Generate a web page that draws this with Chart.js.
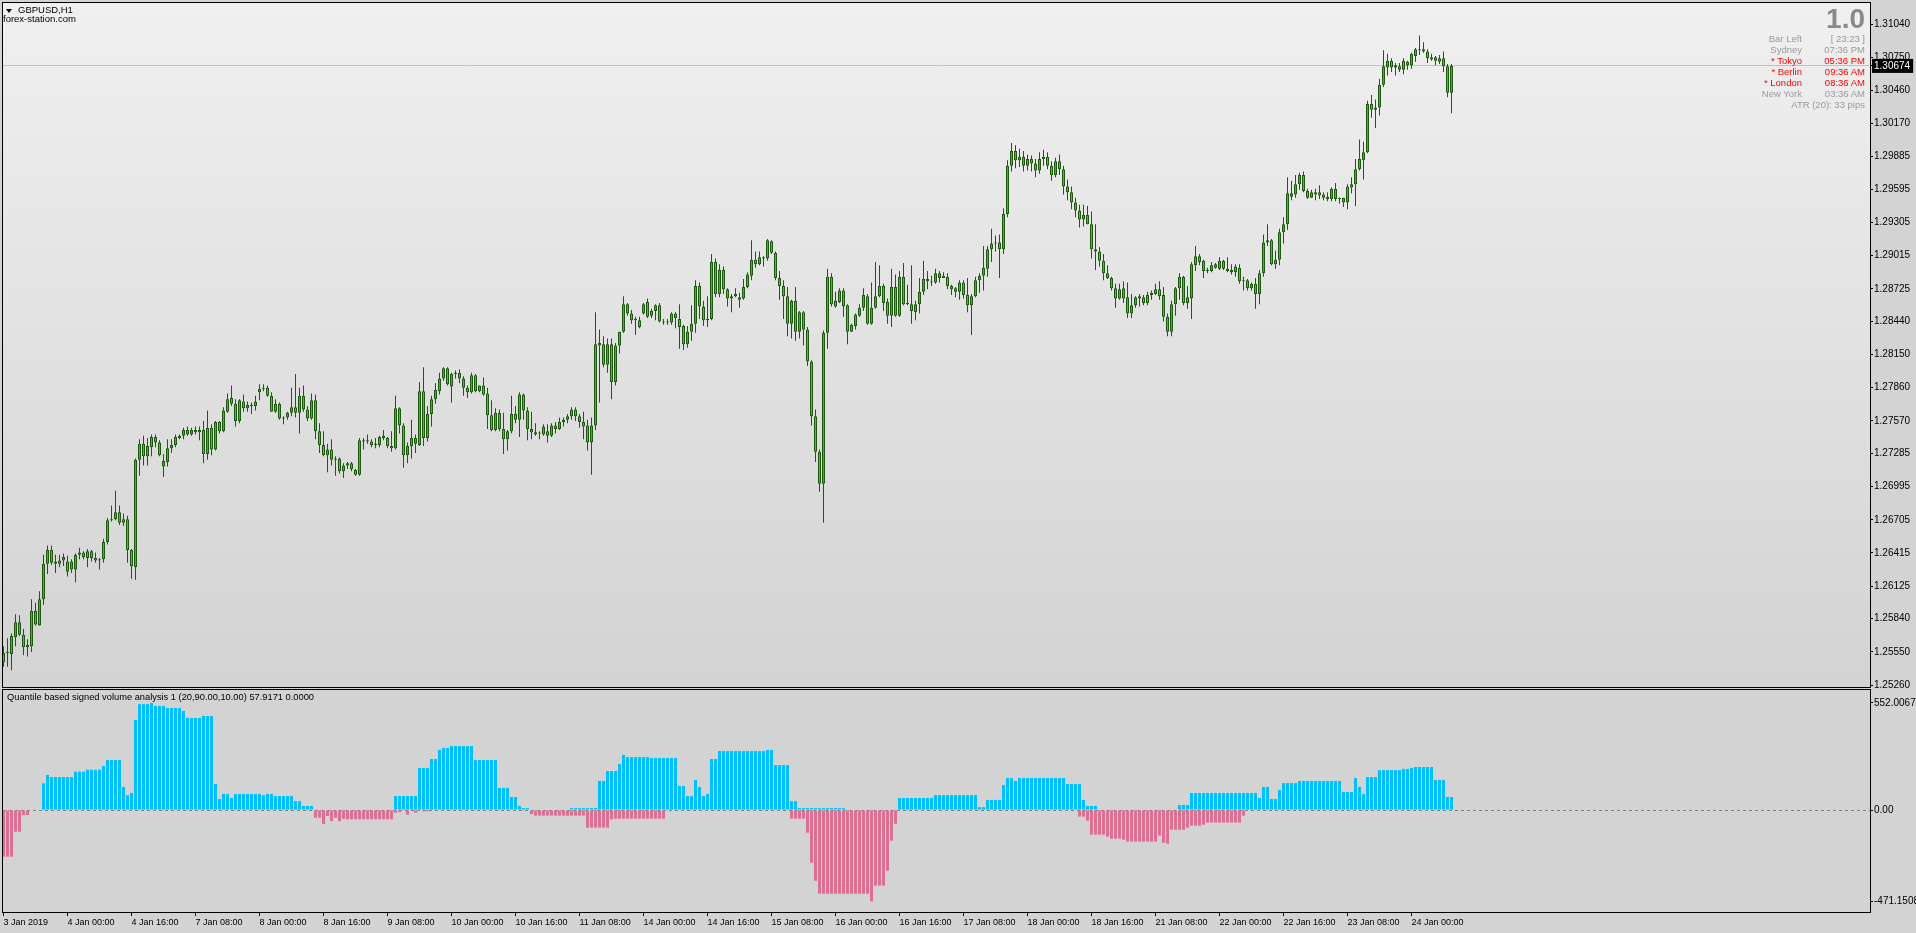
<!DOCTYPE html>
<html>
<head>
<meta charset="utf-8">
<script src="https://cdn.jsdelivr.net/npm/chart.js@4.4.1/dist/chart.umd.min.js"></script>
<style>
body { margin: 0; width: 1916px; height: 933px; overflow: hidden; position: relative; background: #d3d3d3; font-family: "Liberation Sans", Arial, sans-serif; }
canvas { position: absolute; left: 0; }
#c1 { top: 0; }
#c2 { top: 688px; }
.t { position: absolute; white-space: nowrap; line-height: 1; }
#tri { position: absolute; left: 6px; top: 9px; width: 0; height: 0; border-left: 3.5px solid transparent; border-right: 3.5px solid transparent; border-top: 4px solid #000; }
</style>
</head>
<body>
<canvas id="c1" width="1916" height="688"></canvas>
<canvas id="c2" width="1916" height="245"></canvas>
<div id="tri"></div>
<div class="t" style="left:18px;top:4.5px;font-size:9.5px;color:#000">GBPUSD,H1</div>
<div class="t" style="left:3px;top:14px;font-size:9.5px;color:#000">forex-station.com</div>
<div class="t" style="right:51px;top:5px;font-size:28px;font-weight:bold;color:#8a8a8a">1.0</div>
<div class="t" style="left:7px;top:693px;font-size:9.3px;color:#000">Quantile based signed volume analysis 1 (20,90.00,10.00) 57.9171 0.0000</div>
<div id="info"></div>
<script>
// GBPUSD H1, one entry per bar (3 Jan 2019 08:00 ... 24 Jan 2019 10:00)
const open = [
1.2546,1.2554,1.2553,1.2568,1.2581,1.2570,1.2561,1.2560,1.2591,1.2578,
1.2601,1.2632,1.2644,1.2634,1.2632,1.2635,1.2634,1.2627,1.2627,1.2640,
1.2642,1.2637,1.2643,1.2637,1.2635,1.2636,1.2651,1.2670,1.2671,1.2677,
1.2668,1.2671,1.2644,1.2629,1.2723,1.2737,1.2726,1.2734,1.2743,1.2738,
1.2717,1.2721,1.2733,1.2736,1.2742,1.2744,1.2749,1.2745,1.2747,1.2749,
1.2749,1.2728,1.2751,1.2732,1.2756,1.2748,1.2765,1.2777,1.2772,1.2757,
1.2774,1.2768,1.2770,1.2770,1.2782,1.2785,1.2786,1.2779,1.2765,1.2772,
1.2760,1.2760,1.2764,1.2769,1.2764,1.2779,1.2767,1.2759,1.2775,1.2748,
1.2736,1.2727,1.2732,1.2724,1.2724,1.2713,1.2718,1.2720,1.2714,1.2710,
1.2739,1.2739,1.2739,1.2736,1.2736,1.2742,1.2742,1.2735,1.2733,1.2768,
1.2753,1.2727,1.2735,1.2737,1.2736,1.2783,1.2742,1.2763,1.2776,1.2783,
1.2794,1.2803,1.2787,1.2798,1.2799,1.2794,1.2786,1.2782,1.2797,1.2783,
1.2788,1.2781,1.2762,1.2749,1.2764,1.2750,1.2741,1.2748,1.2763,1.2758,
1.2780,1.2766,1.2750,1.2747,1.2746,1.2745,1.2748,1.2744,1.2750,1.2750,
1.2756,1.2758,1.2761,1.2767,1.2761,1.2756,1.2753,1.2738,1.2753,1.2823,
1.2824,1.2806,1.2824,1.2791,1.2823,1.2835,1.2859,1.2851,1.2846,1.2845,
1.2851,1.2861,1.2849,1.2853,1.2858,1.2844,1.2844,1.2843,1.2851,1.2846,
1.2840,1.2824,1.2835,1.2842,1.2875,1.2857,1.2845,1.2846,1.2896,1.2868,
1.2889,1.2872,1.2864,1.2866,1.2865,1.2864,1.2874,1.2884,1.2898,1.2894,
1.2899,1.2899,1.2914,1.2904,1.2882,1.2875,1.2866,1.2842,1.2862,1.2835,
1.2852,1.2837,1.2809,1.2761,1.2730,1.2702,1.2834,1.2883,1.2857,1.2861,
1.2871,1.2858,1.2835,1.2840,1.2849,1.2856,1.2866,1.2842,1.2856,1.2866,
1.2875,1.2861,1.2849,1.2874,1.2849,1.2883,1.2860,1.2859,1.2852,1.2859,
1.2870,1.2881,1.2878,1.2878,1.2882,1.2884,1.2883,1.2875,1.2873,1.2870,
1.2878,1.2867,1.2858,1.2866,1.2880,1.2884,1.2890,1.2907,1.2912,1.2913,
1.2907,1.2938,1.2980,1.2993,1.2985,1.2988,1.2980,1.2986,1.2982,1.2976,
1.2986,1.2988,1.2980,1.2972,1.2984,1.2977,1.2962,1.2957,1.2948,1.2941,
1.2933,1.2937,1.2929,1.2907,1.2905,1.2897,1.2886,1.2882,1.2873,1.2864,
1.2873,1.2865,1.2851,1.2858,1.2864,1.2865,1.2860,1.2867,1.2868,1.2872,
1.2867,1.2848,1.2835,1.2859,1.2873,1.2883,1.2860,1.2864,1.2893,1.2901,
1.2897,1.2889,1.2888,1.2891,1.2890,1.2897,1.2890,1.2887,1.2887,1.2891,
1.2880,1.2880,1.2873,1.2877,1.2868,1.2886,1.2913,1.2915,1.2894,1.2898,
1.2922,1.2929,1.2953,1.2955,1.2964,1.2972,1.2958,1.2952,1.2955,1.2957,
1.2955,1.2953,1.2951,1.2960,1.2952,1.2952,1.2948,1.2961,1.2964,1.2977,
1.2985,1.2992,1.3034,1.3031,1.3031,1.3051,1.3066,1.3072,1.3068,1.3067,
1.3064,1.3071,1.3068,1.3076,1.3081,1.3082,1.3080,1.3075,1.3075,1.3074,
1.3074,1.3067,1.3044];
const high = [
1.2560,1.2567,1.2571,1.2588,1.2587,1.2575,1.2566,1.2601,1.2598,1.2608,
1.2640,1.2648,1.2648,1.2640,1.2640,1.2641,1.2639,1.2636,1.2641,1.2646,
1.2643,1.2645,1.2644,1.2642,1.2637,1.2654,1.2672,1.2683,1.2696,1.2683,
1.2676,1.2674,1.2645,1.2724,1.2741,1.2744,1.2742,1.2745,1.2745,1.2740,
1.2728,1.2741,1.2741,1.2745,1.2745,1.2751,1.2752,1.2751,1.2752,1.2752,
1.2757,1.2766,1.2754,1.2757,1.2757,1.2769,1.2781,1.2788,1.2776,1.2776,
1.2780,1.2774,1.2773,1.2779,1.2789,1.2789,1.2788,1.2782,1.2776,1.2773,
1.2761,1.2765,1.2786,1.2798,1.2786,1.2788,1.2770,1.2781,1.2780,1.2755,
1.2748,1.2737,1.2741,1.2726,1.2725,1.2720,1.2721,1.2721,1.2715,1.2742,
1.2742,1.2745,1.2741,1.2742,1.2744,1.2749,1.2743,1.2748,1.2779,1.2769,
1.2755,1.2738,1.2758,1.2745,1.2791,1.2804,1.2770,1.2779,1.2790,1.2799,
1.2804,1.2804,1.2799,1.2801,1.2802,1.2796,1.2788,1.2799,1.2798,1.2788,
1.2795,1.2786,1.2775,1.2768,1.2767,1.2764,1.2749,1.2779,1.2770,1.2782,
1.2781,1.2769,1.2765,1.2755,1.2748,1.2754,1.2754,1.2755,1.2756,1.2760,
1.2760,1.2763,1.2769,1.2769,1.2763,1.2765,1.2758,1.2760,1.2852,1.2837,
1.2831,1.2829,1.2829,1.2825,1.2835,1.2866,1.2860,1.2854,1.2848,1.2848,
1.2860,1.2864,1.2855,1.2859,1.2860,1.2846,1.2846,1.2852,1.2852,1.2859,
1.2841,1.2840,1.2858,1.2880,1.2878,1.2862,1.2866,1.2903,1.2899,1.2894,
1.2892,1.2873,1.2868,1.2873,1.2869,1.2881,1.2887,1.2915,1.2905,1.2905,
1.2901,1.2916,1.2915,1.2905,1.2888,1.2880,1.2874,1.2863,1.2874,1.2853,
1.2853,1.2839,1.2810,1.2767,1.2732,1.2836,1.2890,1.2886,1.2870,1.2873,
1.2873,1.2859,1.2842,1.2851,1.2859,1.2873,1.2868,1.2878,1.2896,1.2893,
1.2877,1.2864,1.2890,1.2885,1.2888,1.2895,1.2876,1.2893,1.2862,1.2882,
1.2897,1.2888,1.2884,1.2890,1.2888,1.2887,1.2886,1.2876,1.2874,1.2880,
1.2880,1.2882,1.2868,1.2883,1.2886,1.2910,1.2910,1.2925,1.2919,1.2920,
1.2943,1.2985,1.3000,1.2998,1.2995,1.2993,1.2990,1.2989,1.2986,1.2992,
1.2994,1.2992,1.2984,1.2987,1.2990,1.2980,1.2968,1.2962,1.2952,1.2946,
1.2946,1.2945,1.2940,1.2929,1.2909,1.2903,1.2893,1.2883,1.2877,1.2877,
1.2879,1.2878,1.2868,1.2866,1.2868,1.2867,1.2870,1.2871,1.2877,1.2879,
1.2874,1.2851,1.2862,1.2874,1.2886,1.2884,1.2875,1.2896,1.2910,1.2903,
1.2898,1.2891,1.2896,1.2895,1.2900,1.2898,1.2900,1.2894,1.2894,1.2894,
1.2883,1.2881,1.2878,1.2882,1.2889,1.2920,1.2929,1.2916,1.2906,1.2925,
1.2935,1.2970,1.2967,1.2972,1.2974,1.2975,1.2960,1.2959,1.2960,1.2963,
1.2957,1.2957,1.2961,1.2965,1.2952,1.2952,1.2964,1.2970,1.2986,1.3003,
1.3001,1.3037,1.3042,1.3038,1.3056,1.3081,1.3078,1.3074,1.3070,1.3070,
1.3074,1.3072,1.3079,1.3083,1.3094,1.3088,1.3082,1.3078,1.3076,1.3077,
1.3080,1.3069,1.3069];
const low = [
1.2542,1.2542,1.2539,1.2560,1.2569,1.2552,1.2551,1.2555,1.2578,1.2578,
1.2596,1.2623,1.2631,1.2624,1.2629,1.2630,1.2621,1.2624,1.2616,1.2636,
1.2636,1.2629,1.2634,1.2633,1.2627,1.2633,1.2649,1.2669,1.2670,1.2666,
1.2665,1.2633,1.2619,1.2618,1.2709,1.2718,1.2718,1.2726,1.2734,1.2726,
1.2708,1.2717,1.2729,1.2734,1.2741,1.2741,1.2744,1.2744,1.2745,1.2740,
1.2720,1.2723,1.2727,1.2731,1.2746,1.2747,1.2764,1.2770,1.2752,1.2755,
1.2765,1.2765,1.2763,1.2766,1.2775,1.2783,1.2778,1.2765,1.2764,1.2758,
1.2754,1.2758,1.2761,1.2760,1.2746,1.2765,1.2757,1.2758,1.2741,1.2729,
1.2726,1.2712,1.2718,1.2709,1.2711,1.2707,1.2715,1.2713,1.2709,1.2709,
1.2732,1.2737,1.2734,1.2733,1.2734,1.2740,1.2733,1.2730,1.2732,1.2746,
1.2716,1.2720,1.2724,1.2729,1.2735,1.2735,1.2739,1.2752,1.2772,1.2780,
1.2792,1.2788,1.2773,1.2794,1.2790,1.2779,1.2777,1.2781,1.2782,1.2782,
1.2779,1.2750,1.2748,1.2748,1.2748,1.2728,1.2731,1.2746,1.2755,1.2743,
1.2758,1.2740,1.2741,1.2744,1.2741,1.2744,1.2738,1.2743,1.2746,1.2749,
1.2752,1.2755,1.2758,1.2757,1.2751,1.2741,1.2731,1.2710,1.2749,1.2773,
1.2804,1.2799,1.2776,1.2788,1.2816,1.2834,1.2849,1.2842,1.2832,1.2838,
1.2850,1.2847,1.2847,1.2845,1.2843,1.2841,1.2841,1.2841,1.2838,1.2820,
1.2819,1.2821,1.2827,1.2834,1.2846,1.2840,1.2839,1.2845,1.2865,1.2865,
1.2868,1.2857,1.2852,1.2865,1.2856,1.2863,1.2873,1.2880,1.2891,1.2893,
1.2892,1.2897,1.2903,1.2880,1.2863,1.2846,1.2831,1.2829,1.2827,1.2829,
1.2823,1.2805,1.2753,1.2721,1.2695,1.2668,1.2820,1.2857,1.2856,1.2860,
1.2848,1.2824,1.2835,1.2837,1.2848,1.2853,1.2841,1.2841,1.2855,1.2865,
1.2853,1.2842,1.2839,1.2848,1.2848,1.2858,1.2858,1.2842,1.2845,1.2851,
1.2867,1.2872,1.2875,1.2877,1.2878,1.2882,1.2872,1.2867,1.2865,1.2863,
1.2864,1.2852,1.2832,1.2865,1.2869,1.2871,1.2883,1.2896,1.2905,1.2882,
1.2903,1.2935,1.2975,1.2978,1.2979,1.2975,1.2976,1.2975,1.2970,1.2973,
1.2980,1.2977,1.2967,1.2970,1.2972,1.2955,1.2950,1.2942,1.2935,1.2926,
1.2927,1.2929,1.2899,1.2889,1.2892,1.2880,1.2881,1.2871,1.2856,1.2863,
1.2860,1.2847,1.2847,1.2856,1.2857,1.2858,1.2858,1.2863,1.2867,1.2863,
1.2844,1.2831,1.2831,1.2849,1.2863,1.2858,1.2855,1.2846,1.2888,1.2893,
1.2882,1.2886,1.2887,1.2890,1.2889,1.2889,1.2887,1.2885,1.2883,1.2877,
1.2871,1.2871,1.2871,1.2855,1.2859,1.2883,1.2910,1.2893,1.2890,1.2893,
1.2912,1.2924,1.2950,1.2952,1.2959,1.2957,1.2951,1.2952,1.2950,1.2951,
1.2950,1.2949,1.2949,1.2949,1.2947,1.2944,1.2942,1.2956,1.2945,1.2976,
1.2968,1.2991,1.3022,1.3013,1.3024,1.3049,1.3059,1.3062,1.3059,1.3062,
1.3060,1.3064,1.3065,1.3071,1.3077,1.3079,1.3070,1.3072,1.3068,1.3069,
1.3062,1.3040,1.3026];
const close = [
1.2554,1.2554,1.2569,1.2581,1.2570,1.2559,1.2559,1.2591,1.2579,1.2601,
1.2632,1.2644,1.2633,1.2632,1.2635,1.2638,1.2625,1.2634,1.2640,1.2642,
1.2638,1.2643,1.2637,1.2635,1.2636,1.2651,1.2670,1.2671,1.2677,1.2668,
1.2671,1.2644,1.2630,1.2723,1.2737,1.2726,1.2735,1.2743,1.2738,1.2727,
1.2722,1.2733,1.2736,1.2743,1.2744,1.2749,1.2745,1.2749,1.2749,1.2747,
1.2728,1.2751,1.2732,1.2756,1.2748,1.2766,1.2776,1.2772,1.2757,1.2775,
1.2768,1.2771,1.2771,1.2774,1.2785,1.2786,1.2779,1.2765,1.2772,1.2759,
1.2759,1.2764,1.2769,1.2764,1.2779,1.2767,1.2759,1.2775,1.2748,1.2736,
1.2727,1.2732,1.2723,1.2723,1.2713,1.2718,1.2720,1.2715,1.2710,1.2740,
1.2740,1.2740,1.2736,1.2737,1.2743,1.2744,1.2735,1.2733,1.2768,1.2753,
1.2727,1.2735,1.2742,1.2742,1.2783,1.2742,1.2763,1.2776,1.2784,1.2794,
1.2803,1.2789,1.2798,1.2799,1.2794,1.2786,1.2782,1.2797,1.2783,1.2788,
1.2780,1.2762,1.2749,1.2764,1.2750,1.2741,1.2748,1.2763,1.2758,1.2780,
1.2766,1.2750,1.2747,1.2745,1.2746,1.2752,1.2744,1.2753,1.2753,1.2756,
1.2758,1.2761,1.2767,1.2761,1.2756,1.2752,1.2738,1.2753,1.2824,1.2825,
1.2806,1.2824,1.2791,1.2823,1.2835,1.2859,1.2851,1.2845,1.2845,1.2839,
1.2859,1.2848,1.2853,1.2858,1.2844,1.2843,1.2843,1.2851,1.2847,1.2839,
1.2824,1.2835,1.2842,1.2875,1.2857,1.2845,1.2846,1.2896,1.2868,1.2889,
1.2872,1.2864,1.2866,1.2868,1.2863,1.2874,1.2885,1.2898,1.2894,1.2900,
1.2900,1.2915,1.2904,1.2882,1.2875,1.2866,1.2842,1.2862,1.2835,1.2852,
1.2837,1.2809,1.2761,1.2730,1.2702,1.2834,1.2883,1.2859,1.2862,1.2871,
1.2857,1.2835,1.2841,1.2850,1.2856,1.2867,1.2842,1.2856,1.2866,1.2875,
1.2860,1.2849,1.2874,1.2849,1.2883,1.2859,1.2859,1.2853,1.2859,1.2870,
1.2881,1.2879,1.2878,1.2886,1.2886,1.2882,1.2875,1.2872,1.2870,1.2878,
1.2867,1.2858,1.2866,1.2880,1.2884,1.2891,1.2907,1.2912,1.2913,1.2907,
1.2938,1.2980,1.2993,1.2985,1.2988,1.2980,1.2986,1.2982,1.2976,1.2986,
1.2988,1.2980,1.2972,1.2984,1.2977,1.2962,1.2957,1.2948,1.2941,1.2933,
1.2937,1.2929,1.2907,1.2905,1.2897,1.2886,1.2882,1.2873,1.2864,1.2872,
1.2864,1.2851,1.2858,1.2865,1.2866,1.2860,1.2867,1.2869,1.2872,1.2866,
1.2848,1.2835,1.2859,1.2873,1.2883,1.2860,1.2865,1.2894,1.2901,1.2896,
1.2888,1.2888,1.2893,1.2894,1.2897,1.2890,1.2888,1.2889,1.2892,1.2879,
1.2879,1.2873,1.2877,1.2868,1.2886,1.2913,1.2915,1.2894,1.2898,1.2922,
1.2929,1.2956,1.2956,1.2964,1.2972,1.2958,1.2952,1.2957,1.2957,1.2954,
1.2952,1.2951,1.2960,1.2951,1.2951,1.2948,1.2962,1.2964,1.2977,1.2986,
1.2992,1.3034,1.3029,1.3029,1.3051,1.3067,1.3072,1.3066,1.3066,1.3064,
1.3072,1.3068,1.3078,1.3082,1.3082,1.3080,1.3074,1.3073,1.3072,1.3071,
1.3067,1.3044,1.30674];

// Quantile based signed volume analysis: positive part (blue) and negative part (pink)
const buyVol = [
0,0,0,0,0,0,0,0,0,0,
138,181,170,170,170,170,170,170,198,198,
198,208,208,208,208,227,258,258,258,258,
119,77,88,464,546,546,546,552.0067,537,537,
537,526,526,526,526,511,475,475,475,475,
485,485,485,134,57,83,83,62,83,83,
83,83,83,83,83,76,83,83,72,72,
72,72,72,46,46,21,21,21,0,0,
0,0,0,0,0,0,0,0,0,0,
0,0,0,0,0,0,0,0,72,72,
72,72,72,72,217,217,217,263,263,310,
320,320,330,330,330,330,330,330,258,258,
258,258,258,258,114,114,114,67,67,21,
10,10,0,0,0,0,0,0,0,0,
0,0,10,10,10,10,10,10,10,150,
150,201,201,201,237,284,273,273,273,273,
273,273,268,268,268,268,268,268,268,124,
124,72,72,155,119,72,83,263,263,304,
304,304,304,304,304,304,304,304,304,304,
304,310,310,232,232,232,232,46,46,10,
10,10,10,10,10,10,10,10,10,10,
10,0,0,0,0,0,0,0,0,0,
0,0,0,0,62,62,62,62,62,62,
62,62,62,77,77,77,77,77,77,77,
77,77,77,77,15,15,52,52,52,52,
129,165,165,150,165,165,165,165,165,165,
165,165,165,165,165,165,134,134,134,134,
52,21,21,21,0,0,0,0,0,0,
0,0,0,0,0,0,0,0,0,0,
0,0,0,0,26,26,26,88,88,88,
88,88,88,88,88,88,88,88,88,88,
88,88,88,88,62,119,119,57,57,103,
139,139,139,139,150,150,150,150,150,150,
150,150,150,150,150,93,93,93,165,119,
83,170,170,170,206,206,206,206,206,206,
212,212,217,222,222,222,222,222,155,155,
155,67,67];
const sellVol = [
-241,-241,-241,-112,-112,-26,-26,0,0,0,
0,0,0,0,0,0,0,0,0,0,
0,0,0,0,0,0,0,0,0,0,
0,0,0,0,0,0,0,0,0,0,
0,0,0,0,0,0,0,0,0,0,
0,0,0,0,0,0,0,0,0,0,
0,0,0,0,0,0,0,0,0,0,
0,0,0,0,0,0,0,0,-40,-40,
-72,-31,-57,-40,-57,-45,-48,-48,-48,-48,
-48,-48,-48,-48,-48,-48,-48,-48,-14,-10,
0,-24,0,-14,0,-7,-7,0,0,0,
0,0,0,0,0,0,0,0,0,0,
0,0,0,0,0,0,0,0,0,0,
0,0,-21,-29,-29,-29,-29,-29,-29,-29,
-29,-29,-29,-29,-29,-29,-91,-91,-91,-91,
-91,-91,-48,-45,-45,-45,-45,-45,-45,-45,
-45,-45,-45,-45,-45,-45,0,0,0,0,
0,0,0,0,0,0,0,0,0,0,
0,0,0,0,0,0,0,0,0,0,
0,0,0,0,0,0,0,-45,-45,-45,
-45,-117,-272,-365,-432,-432,-432,-432,-432,-432,
-432,-432,-432,-432,-432,-432,-432,-471.1508,-390,-390,
-390,-313,-158,-71,0,0,0,0,0,0,
0,0,0,0,0,0,0,0,0,0,
0,0,0,0,0,0,0,0,0,0,
0,0,0,0,0,0,0,0,0,0,
0,0,0,0,0,0,0,0,0,-34,
-34,-55,-127,-127,-127,-127,-138,-148,-148,-148,
-153,-163,-163,-163,-163,-163,-163,-163,-163,-132,
-169,-174,-102,-102,-102,-102,-91,-81,-81,-81,
-76,-65,-65,-65,-65,-65,-65,-65,-65,-65,
-29,0,0,0,0,0,0,0,0,0,
0,0,0,0,0,0,0,0,0,0,
0,0,0,0,0,0,0,0,0,0,
0,0,0,0,0,0,0,0,0,0,
0,0,0,0,0,0,0,0,0,0,
0,0,0];

const bidPrice = 1.30674;
const priceTicks = [1.31040, 1.30750, 1.30460, 1.30170, 1.29885, 1.29595, 1.29305, 1.29015, 1.28725, 1.28440,
  1.28150, 1.27860, 1.27570, 1.27285, 1.26995, 1.26705, 1.26415, 1.26125, 1.25840, 1.25550, 1.25260];
const volTicks = [552.0067, 0, -471.1508];
const timeTickBars = [0, 16, 32, 48, 64, 80, 96, 112, 128, 144, 160, 176, 192, 208, 224, 240, 256, 272, 288, 304, 320, 336, 352];
const timeTickLabels = ['3 Jan 2019', '4 Jan 00:00', '4 Jan 16:00', '7 Jan 08:00', '8 Jan 00:00', '8 Jan 16:00',
  '9 Jan 08:00', '10 Jan 00:00', '10 Jan 16:00', '11 Jan 08:00', '14 Jan 00:00', '14 Jan 16:00', '15 Jan 08:00',
  '16 Jan 00:00', '16 Jan 16:00', '17 Jan 08:00', '18 Jan 00:00', '18 Jan 16:00', '21 Jan 08:00', '22 Jan 00:00',
  '22 Jan 16:00', '23 Jan 08:00', '24 Jan 00:00'];

// clock panel in the top right corner
const clockNames = ['Bar Left', 'Sydney', '* Tokyo', '* Berlin', '* London', 'New York'];
const clockTimes = ['[ 23:23 ]', '07:36 PM', '05:36 PM', '09:36 AM', '08:36 AM', '03:36 AM'];
const clockOpen = [false, false, true, true, true, false];

const info = document.getElementById('info');
const rowTop = [34, 45, 56, 67, 77.5, 88.5];
clockNames.forEach((name, i) => {
  const col = clockOpen[i] ? '#ff0000' : '#9a9a9a';
  info.insertAdjacentHTML('beforeend',
    `<div class="t" style="right:114px;top:${rowTop[i]}px;font-size:9.5px;color:${col}">${name}</div>` +
    `<div class="t" style="right:51px;top:${rowTop[i]}px;font-size:9.5px;color:${col}">${clockTimes[i]}</div>`);
});
info.insertAdjacentHTML('beforeend', '<div class="t" style="right:51px;top:100px;font-size:9.5px;color:#9a9a9a">ATR (20): 33 pips</div>');

Chart.defaults.font.family = '"Liberation Sans", Arial, sans-serif';
Chart.defaults.color = '#000';

const xMin = -0.125, xMax = 466.625;   // 4 px per hourly bar
const outline = '#1d5a10';
const bullFill = '#3cb82c';
const bearFill = '#d8734b';

// fixed axis sizes, no extra room for the end labels
const fixY = s => { s.width = 46; s.paddingTop = 0; s.paddingBottom = 0; };
const fixX = s => { s.height = 21; s.paddingLeft = 0; s.paddingRight = 0; };

// pane background and black frame
const pane = {
  id: 'pane',
  beforeDraw(chart, args, opts) {
    const {ctx, chartArea: a} = chart;
    ctx.save();
    ctx.fillStyle = '#d3d3d3';
    ctx.fillRect(0, 0, chart.width, chart.height);
    if (opts.top) {
      const g = ctx.createLinearGradient(0, a.top, 0, a.bottom);
      g.addColorStop(0, opts.top);
      g.addColorStop(1, opts.bottom);
      ctx.fillStyle = g;
      ctx.fillRect(a.left, a.top, a.right - a.left, a.bottom - a.top);
    }
    ctx.restore();
  },
  afterDraw(chart) {
    const {ctx, chartArea: a} = chart;
    ctx.save();
    ctx.strokeStyle = '#000';
    ctx.lineWidth = 1;
    ctx.strokeRect(a.left - 0.5, a.top - 0.5, a.right - a.left + 1, a.bottom - a.top + 1);
    ctx.restore();
  }
};

const bodies = close.map((c, i) => ({x: i, y: [open[i], c]}));
const wicks = close.map((c, i) => ({x: i, y: [low[i], high[i]]}));
const bodyColors = close.map((c, i) => c >= open[i] ? bullFill : bearFill);

new Chart(document.getElementById('c1'), {
  type: 'bar',
  data: {
    datasets: [
      { data: bodies, backgroundColor: bodyColors, borderColor: outline, borderWidth: 1, borderSkipped: false,
        barThickness: 3, grouped: false, minBarLength: 1, inflateAmount: 0, order: 1 },
      { data: wicks, backgroundColor: outline, borderWidth: 0, barThickness: 1, grouped: false,
        minBarLength: 1, inflateAmount: 0, order: 2 }
    ]
  },
  options: {
    responsive: false, animation: false, events: [], devicePixelRatio: 1,
    layout: { padding: { left: 3, top: 3, right: 0, bottom: 1 } },
    plugins: { legend: { display: false }, tooltip: { enabled: false }, pane: { top: '#f0f0f0', bottom: '#d3d3d3' } },
    scales: {
      x: { type: 'linear', min: xMin, max: xMax, offset: false, display: false, grid: { offset: false } },
      y: {
        position: 'right', min: 1.25243, max: 1.31224, beginAtZero: false,
        afterFit: fixY,
        afterBuildTicks: s => { s.ticks = priceTicks.concat([bidPrice]).map(v => ({ value: v })); },
        ticks: {
          autoSkip: false, padding: 1, font: { size: 10 },
          callback: v => v.toFixed(5),
          color: c => c.tick.value === bidPrice ? '#fff' : '#000',
          showLabelBackdrop: c => c.tick.value === bidPrice,
          backdropColor: '#000',
          backdropPadding: { left: 2, right: 3, top: 1, bottom: 1 }
        },
        grid: {
          color: c => (c.tick && c.tick.value === bidPrice) ? '#c0c0c0' : 'rgba(0,0,0,0)',
          tickColor: '#000', tickLength: 3, lineWidth: 1
        },
        border: { display: false }
      }
    }
  },
  plugins: [pane]
});

new Chart(document.getElementById('c2'), {
  type: 'bar',
  data: {
    datasets: [
      { data: buyVol.map((v, i) => ({x: i, y: v})), backgroundColor: '#00bfff', borderWidth: 0,
        barThickness: 3, grouped: false, inflateAmount: 0, order: 1 },
      { data: sellVol.map((v, i) => ({x: i, y: v})), backgroundColor: '#db7093', borderWidth: 0,
        barThickness: 3, grouped: false, inflateAmount: 0, order: 2 }
    ]
  },
  options: {
    responsive: false, animation: false, events: [], devicePixelRatio: 1,
    layout: { padding: { left: 3, top: 2, right: 0, bottom: 0 } },
    plugins: { legend: { display: false }, tooltip: { enabled: false }, pane: {} },
    scales: {
      x: {
        type: 'linear', min: xMin, max: xMax, offset: false, position: 'bottom',
        afterFit: fixX,
        afterBuildTicks: s => { s.ticks = timeTickBars.map(v => ({ value: v })); },
        ticks: { autoSkip: false, maxRotation: 0, minRotation: 0, align: 'start', padding: 1, font: { size: 9 },
          callback: (v, i) => timeTickLabels[i] },
        grid: { offset: false, drawOnChartArea: false, drawTicks: true, tickLength: 4, tickColor: '#000', color: '#000' },
        border: { display: false }
      },
      y: {
        position: 'right', min: -526, max: 619,
        afterFit: fixY,
        afterBuildTicks: s => { s.ticks = volTicks.map(v => ({ value: v })); },
        ticks: { autoSkip: false, padding: 1, font: { size: 10 },
          callback: v => v === 0 ? '0.00' : v.toFixed(4) },
        grid: {
          color: c => (c.tick && c.tick.value === 0) ? '#808080' : 'rgba(0,0,0,0)',
          tickColor: '#000', tickLength: 3
        },
        border: { display: false, dash: [3, 3] }
      }
    }
  },
  plugins: [pane]
});
</script>
</body>
</html>
